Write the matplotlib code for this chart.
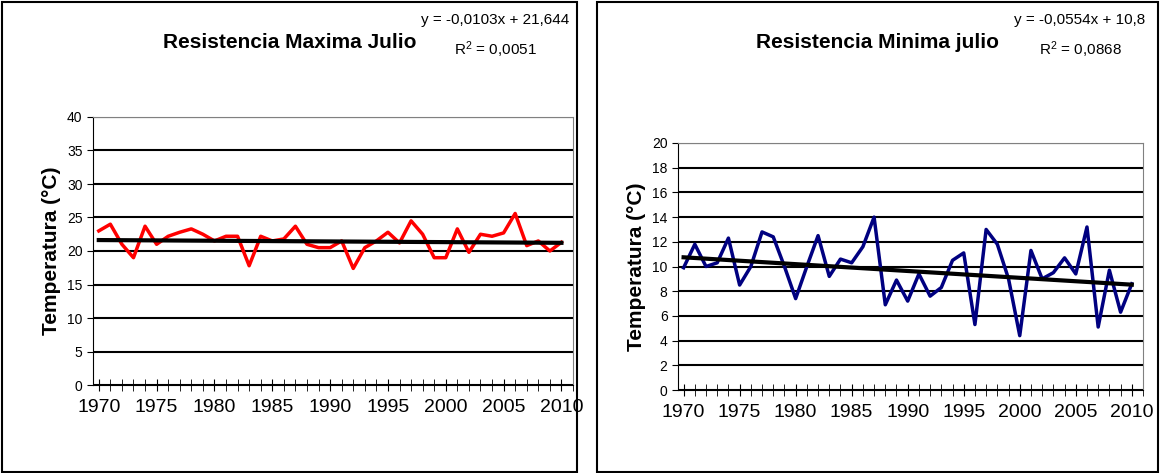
import numpy as np
import matplotlib
matplotlib.use('Agg')
import matplotlib.pyplot as plt
from matplotlib.patches import Rectangle
from matplotlib.ticker import MultipleLocator

plt.rcParams['font.family'] = ['Liberation Sans Narrow', 'Liberation Sans', 'DejaVu Sans']

years = np.arange(1970, 2011)
tmax = [23, 24, 21, 19, 23.7, 21, 22.2, 22.8, 23.3, 22.5, 21.5, 22.2, 22.2, 17.8, 22.2,
        21.5, 21.8, 23.7, 21, 20.5, 20.5, 21.5, 17.4, 20.5, 21.5, 22.8, 21.2, 24.5, 22.5,
        19, 19, 23.3, 19.8, 22.5, 22.2, 22.7, 25.6, 20.8, 21.5, 20, 21.3]
tmin = [9.9, 11.8, 10, 10.3, 12.3, 8.5, 10, 12.8, 12.4, 10, 7.4, 10, 12.5, 9.2, 10.6,
        10.3, 11.6, 14, 6.9, 8.9, 7.2, 9.4, 7.6, 8.3, 10.5, 11.1, 5.3, 13, 11.8, 9, 4.4,
        11.3, 9, 9.5, 10.7, 9.4, 13.2, 5.1, 9.7, 6.3, 8.6]
# trend equations as printed on the chart (x = 1..41)
trend_max = (-0.0103, 21.644, '0,0051')
trend_min = (-0.0554, 10.8, '0,0868')

fig = plt.figure(figsize=(11.6, 4.73), dpi=100)
W, H = 1160, 473
for x0, x1 in [(2, 577), (597, 1158)]:
    fig.add_artist(Rectangle((x0 / W, 1 / H), (x1 - x0) / W, (H - 3) / H, transform=fig.transFigure,
                             fill=False, edgecolor='black', lw=1.5))

def panel(rect, data, color, ymax, ystep, title, tr, title_x, eq_x):
    ax = fig.add_axes([rect[0] / W, 1 - rect[3] / H, (rect[2] - rect[0]) / W, (rect[3] - rect[1]) / H])
    ax.plot(years, data, color=color, lw=2.5, zorder=3)
    xi = np.arange(1, len(years) + 1)
    ax.plot(years, tr[0] * xi + tr[1], color='black', lw=3, zorder=4)
    ax.set_xlim(1969.5, 2011)
    ax.set_ylim(0, ymax)
    ax.set_yticks(np.arange(0, ymax + 0.1, ystep))
    ax.yaxis.grid(True, color='black', lw=1.5)
    ax.set_axisbelow(True)
    ax.set_xticks(np.arange(1970, 2011, 5))
    ax.xaxis.set_minor_locator(MultipleLocator(1))
    ax.tick_params(axis='x', labelsize=14, direction='inout', length=8, which='both', pad=6)
    ax.tick_params(axis='y', labelsize=10, direction='out', length=4)
    for s in ['top', 'right']:
        ax.spines[s].set_color('gray')
    ax.set_ylabel('Temperatura (°C)', fontsize=15, fontweight='bold', family='Liberation Sans')
    fig.text(title_x / W, 1 - 42 / H, title, fontsize=15, fontweight='bold', ha='center', va='center')
    sign = '-' if tr[0] < 0 else '+'
    eq = f'y = {sign}{abs(tr[0])}x + {tr[1]}'.replace('.', ',')
    fig.text(eq_x / W, 1 - 20 / H, eq, fontsize=11, ha='center', va='center')
    fig.text(eq_x / W, 1 - 50 / H, '$\\mathregular{R^2}$ = ' + tr[2], fontsize=11, ha='center', va='center')
    return ax

panel((93, 117, 573, 385), tmax, 'red', 40, 5, 'Resistencia Maxima Julio', trend_max, 290, 495)
panel((678, 143, 1143, 390), tmin, '#000080', 20, 2, 'Resistencia Minima julio', trend_min, 877, 1080)

fig.savefig('out.png', dpi=100)
